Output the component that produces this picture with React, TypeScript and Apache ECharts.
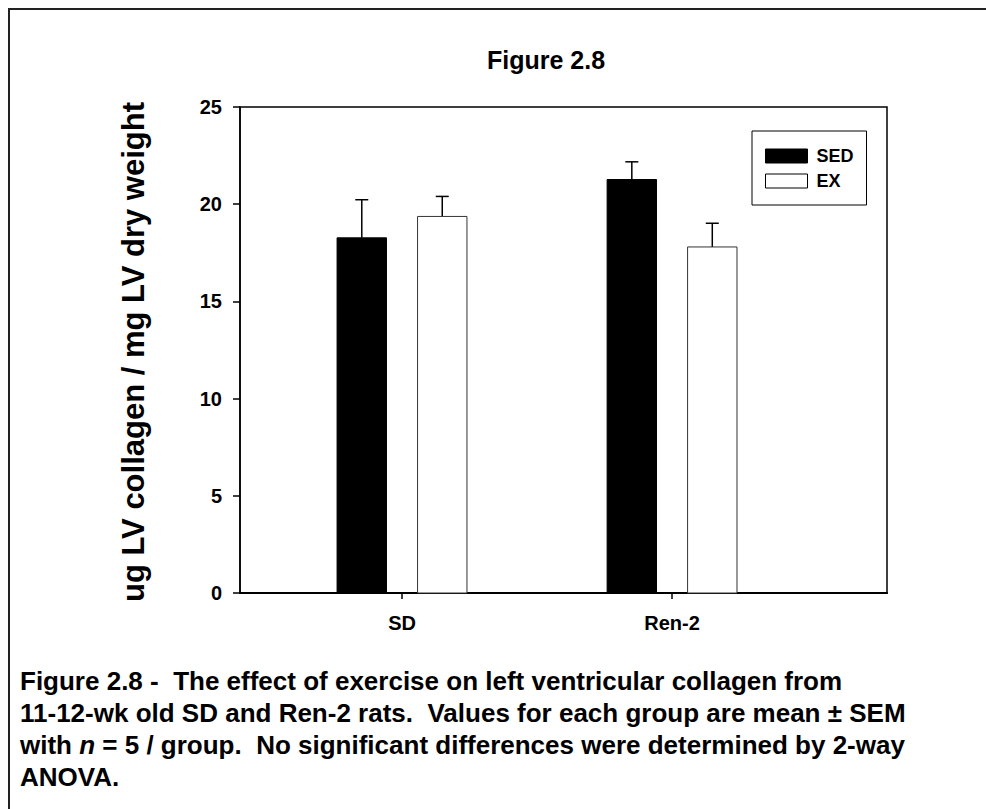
import React, { useEffect, useRef } from "react";
import * as echarts from "echarts";

const categories = ["SD", "Ren-2"];
const seriesNames = ["SED", "EX"];
const sedMeans = [18.27, 21.27];
const sedSem = [1.96, 0.91];
const exMeans = [19.37, 17.8];
const exSem = [1.03, 1.22];
const yTicks = [0, 5, 10, 15, 20, 25];
const titleText = "Figure 2.8";
const yAxisTitle = "ug LV collagen / mg LV dry weight";
const captionLines = [
  "Figure 2.8 -  The effect of exercise on left ventricular collagen from",
  "11-12-wk old SD and Ren-2 rats.  Values for each group are mean ± SEM",
  "with {i|n} = 5 / group.  No significant differences were determined by 2-way",
  "ANOVA.",
];

const FONT = "'Liberation Sans', Arial, Helvetica, sans-serif";
const BAR_OFFSET = 0.149;
const BAR_WIDTH = 0.183;

export default function App() {
  const ref = useRef<HTMLDivElement>(null);
  useEffect(() => {
    document.body.style.margin = "0";
    if (!ref.current) return;
    const chart = echarts.init(ref.current, null, { renderer: "svg" });

    const makeData = (means: number[], sems: number[], offset: number) =>
      means.map((m, i) => [i + 1 + offset, m, sems[i]]);

    const renderBar = (fill: string, stroke: string) => (params: any, api: any) => {
      const x = api.value(0);
      const v = api.value(1);
      const e = api.value(2);
      const tl = api.coord([x - BAR_WIDTH / 2, v]);
      const br = api.coord([x + BAR_WIDTH / 2, 0]);
      const top = api.coord([x, v]);
      const cap = api.coord([x, v + e]);
      const capHalf = 6.5;
      return {
        type: "group",
        children: [
          {
            type: "line",
            shape: { x1: top[0], y1: top[1], x2: cap[0], y2: cap[1] },
            style: { stroke: "#000", lineWidth: 1.5 },
          },
          {
            type: "line",
            shape: { x1: cap[0] - capHalf, y1: cap[1], x2: cap[0] + capHalf, y2: cap[1] },
            style: { stroke: "#000", lineWidth: 1.5 },
          },
          {
            type: "rect",
            shape: { x: tl[0], y: tl[1], width: br[0] - tl[0], height: br[1] - tl[1] },
            style: { fill, stroke, lineWidth: 1 },
          },
        ],
      };
    };

    const option: any = {
      animation: false,
      backgroundColor: "#fff",
      textStyle: { fontFamily: FONT },
      grid: {
        left: 240,
        top: 107,
        right: 99,
        bottom: 216,
        show: true,
        borderColor: "#000",
        borderWidth: 1.5,
        backgroundColor: "transparent",
      },
      legend: {
        left: 752,
        top: 131,
        orient: "vertical",
        itemWidth: 42,
        itemHeight: 14,
        itemGap: 7,
        padding: [16, 13, 15, 13],
        borderColor: "#000",
        borderWidth: 1,
        backgroundColor: "#fff",
        textStyle: { fontFamily: FONT, fontWeight: "bold", fontSize: 18, color: "#000", padding: [0, 0, 0, 4] },
        data: [
          { name: seriesNames[0], icon: "rect", itemStyle: { color: "#000", borderColor: "#000", borderWidth: 1 } },
          { name: seriesNames[1], icon: "rect", itemStyle: { color: "#fff", borderColor: "#000", borderWidth: 1 } },
        ],
        selectedMode: false,
      },
      xAxis: {
        type: "value",
        min: 0.4,
        max: 2.796,
        splitLine: { show: false },
        axisLine: { show: true, onZero: false, lineStyle: { color: "#000", width: 2 } },
        axisTick: { show: true, customValues: [1, 2], length: 6, inside: false, lineStyle: { color: "#000", width: 1.5 } },
        axisLabel: {
          customValues: [1, 2],
          formatter: (v: number) => categories[Math.round(v) - 1] ?? "",
          margin: 20,
          fontFamily: FONT,
          fontWeight: "bold",
          fontSize: 20,
          color: "#000",
        },
      },
      yAxis: {
        type: "value",
        min: 0,
        max: 25,
        interval: 5,
        splitLine: { show: false },
        axisLine: { show: true, lineStyle: { color: "#000", width: 1.5 } },
        axisTick: { show: true, length: 7, inside: false, lineStyle: { color: "#000", width: 1.5 } },
        axisLabel: {
          margin: 18,
          fontFamily: FONT,
          fontWeight: "bold",
          fontSize: 20,
          color: "#000",
          formatter: (v: number) => (yTicks.includes(v) ? String(v) : ""),
        },
      },
      series: [
        {
          name: seriesNames[0],
          type: "custom",
          itemStyle: { color: "#000" },
          encode: { x: 0, y: 1 },
          data: makeData(sedMeans, sedSem, -BAR_OFFSET),
          renderItem: renderBar("#000", "#000"),
        },
        {
          name: seriesNames[1],
          type: "custom",
          itemStyle: { color: "#fff", borderColor: "#000" },
          encode: { x: 0, y: 1 },
          data: makeData(exMeans, exSem, BAR_OFFSET),
          renderItem: renderBar("#fff", "#333"),
        },
      ],
      graphic: [
        {
          type: "rect",
          shape: { x: 9, y: 9, width: 1200, height: 1200 },
          style: { fill: "none", stroke: "#222", lineWidth: 2 },
          silent: true,
          z: 0,
        },
        {
          type: "text",
          x: 546,
          y: 60,
          style: {
            text: titleText,
            fontFamily: FONT,
            fontWeight: "bold",
            fontSize: 25,
            fill: "#000",
            textAlign: "center",
            textVerticalAlign: "middle",
          },
        },
        {
          type: "text",
          x: 133,
          y: 352,
          rotation: Math.PI / 2,
          style: {
            text: yAxisTitle,
            fontFamily: FONT,
            fontWeight: "bold",
            fontSize: 31,
            fill: "#000",
            textAlign: "center",
            textVerticalAlign: "middle",
          },
        },
        ...captionLines.map((line, i) => ({
          type: "text",
          x: 20,
          y: 681 + i * 32,
          style: {
            text: line,
            fontFamily: FONT,
            fontWeight: "bold",
            fontSize: 26,
            fill: "#000",
            textAlign: "left",
            textVerticalAlign: "middle",
            rich: {
              i: { fontFamily: FONT, fontWeight: "bold", fontStyle: "italic", fontSize: 26, fill: "#000" },
            },
          },
        })),
      ],
    };
    chart.setOption(option);
    return () => chart.dispose();
  }, []);
  return <div ref={ref} style={{ width: 986, height: 809 }} />;
}
